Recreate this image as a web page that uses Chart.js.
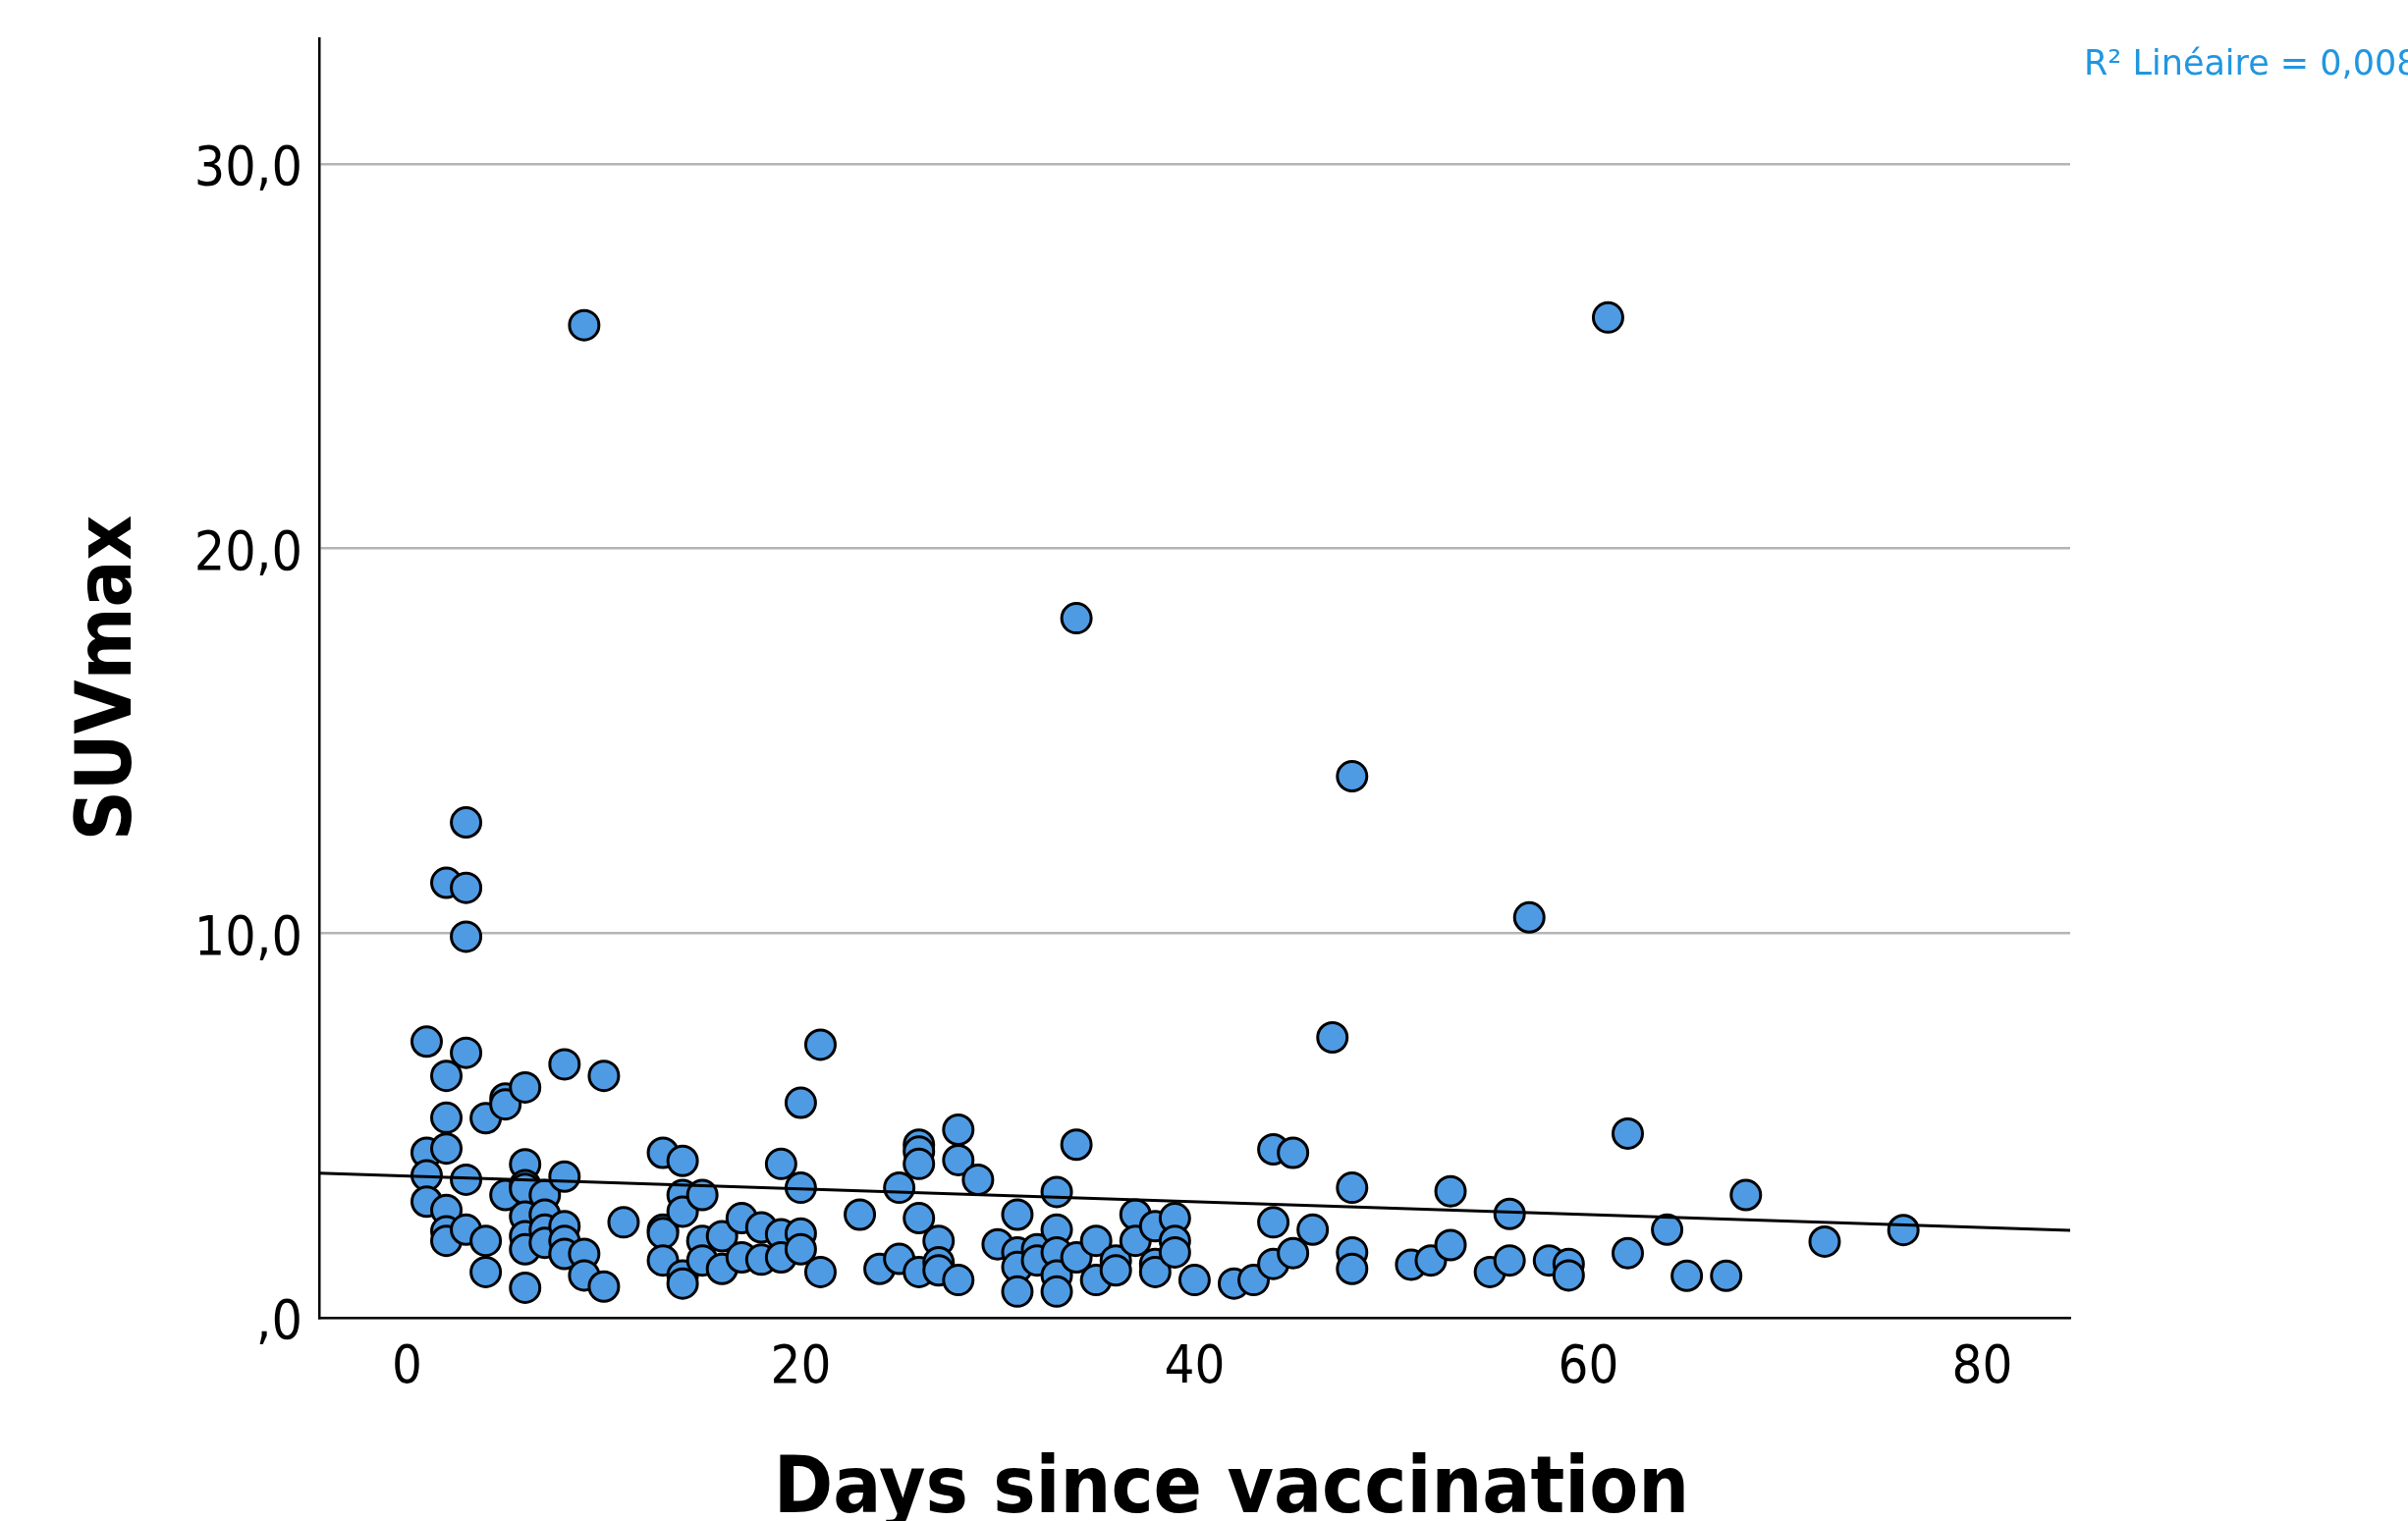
<!DOCTYPE html>
<html lang="fr">
<head>
    <meta charset="UTF-8">
    <title>SUVmax / Days since vaccination</title>
    <script src="https://cdn.jsdelivr.net/npm/chart.js"></script>
    <style>
        html, body { margin: 0; padding: 0; background: #fff; overflow: hidden; }
        canvas { display: block; }
    </style>
</head>
<body>
    <canvas id="suvChart" width="2452" height="1549"></canvas>

    <script>
        // one entry per point, grouped by day
        const days = [
            1, 1, 1, 1,
            2, 2, 2, 2, 2, 2, 2,
            3, 3, 3, 3, 3, 3,
            4, 4, 4,
            5, 5, 5,
            6, 6, 6, 6, 6, 6, 6, 6,
            7, 7, 7, 7,
            8, 8, 8, 8, 8,
            9, 9, 9,
            10, 10,
            11,
            13, 13, 13, 13,
            14, 14, 14, 14, 14,
            15, 15, 15,
            16, 16,
            17, 17,
            18, 18,
            19, 19, 19,
            20, 20, 20, 20,
            21, 21,
            23,
            24,
            25, 25,
            26, 26, 26, 26, 26,
            27, 27, 27,
            28, 28, 28,
            29,
            30,
            31, 31, 31, 31,
            32, 32,
            33, 33, 33, 33, 33,
            34, 34, 34,
            35, 35,
            36, 36,
            37, 37,
            38, 38, 38,
            39, 39, 39,
            40,
            42,
            43,
            44, 44, 44,
            45, 45,
            46,
            47,
            48, 48, 48, 48,
            51,
            52,
            53, 53,
            55,
            56, 56,
            57,
            58,
            59, 59,
            61,
            62, 62,
            64,
            65,
            67,
            68,
            72,
            76
        ];
        const suvmax = [
            7.18, 4.29, 3.70, 3.02,
            11.31, 6.29, 5.20, 4.40, 2.80, 2.25, 2.00,
            12.88, 11.18, 9.91, 6.89, 3.59, 2.29,
            5.19, 2.00, 1.19,
            5.70, 5.55, 3.19,
            5.99, 3.99, 3.45, 3.35, 2.63, 2.12, 1.78, 0.78,
            3.19, 2.68, 2.29, 1.95,
            6.59, 3.67, 2.38, 2.00, 1.66,
            25.81, 1.66, 1.10,
            6.29, 0.81,
            2.48,
            4.29, 2.29, 2.20, 1.49,
            4.08, 3.19, 2.76, 1.10, 0.89,
            3.19, 2.00, 1.49,
            2.12, 1.27,
            2.59, 1.57,
            2.35, 1.51,
            4.00, 2.17, 1.57,
            5.59, 3.38, 2.19, 1.78,
            7.10, 1.19,
            2.68,
            1.27,
            3.38, 1.53,
            4.50, 4.32, 4.00, 2.59, 1.19,
            2.00, 1.44, 1.23,
            4.89, 4.10, 0.98,
            3.59,
            1.91,
            2.68, 1.70, 1.32, 0.68,
            1.78, 1.49,
            3.27, 2.29, 1.70, 1.10, 0.68,
            18.19, 4.50, 1.57,
            2.00, 0.98,
            1.49, 1.23,
            2.68, 2.00,
            2.38, 1.40, 1.19,
            2.59, 2.00, 1.70,
            0.98,
            0.89,
            0.98,
            4.38, 2.48, 1.40,
            4.29, 1.68,
            2.29,
            7.29,
            14.08, 3.38, 1.70, 1.27,
            1.38,
            1.49,
            3.29, 1.89,
            1.19,
            2.70, 1.49,
            10.41,
            1.49,
            1.40, 1.10,
            26.01,
            4.79, 1.68,
            2.29,
            1.09,
            1.09,
            3.19,
            1.98,
            2.28
        ];

        // linear fit line, ends read at the plot edges
        const fitDays = [-4.46, 84.47];
        const fitSuv = [3.76, 2.27];
        const r2Text = 'R² Linéaire = 0,008';

        const xTicks = [0, 20, 40, 60, 80];
        const yTicks = [0, 10, 20, 30];
        const yTickLabels = [',0', '10,0', '20,0', '30,0'];

        const xMin = -4.46, xMax = 84.47;
        const yMin = 0, yMax = 33.27;

        const fontFamily = "'DejaVu Sans Condensed', 'DejaVu Sans', sans-serif";

        const r2Label = {
            id: 'r2Label',
            afterDraw(chart) {
                const c = chart.ctx;
                const area = chart.chartArea;
                c.save();
                c.font = "35px 'DejaVu Sans', sans-serif";
                c.fillStyle = '#2196e0';
                c.textAlign = 'left';
                c.textBaseline = 'middle';
                c.fillText(r2Text, area.right + 14, area.top + 28);
                c.restore();
            }
        };

        const ctx = document.getElementById('suvChart').getContext('2d');
        new Chart(ctx, {
            type: 'scatter',
            data: {
                datasets: [
                    {
                        type: 'line',
                        data: fitDays.map((d, i) => ({ x: d, y: fitSuv[i] })),
                        borderColor: '#000',
                        borderWidth: 3,
                        pointRadius: 0,
                        fill: false
                    },
                    {
                        data: days.map((d, i) => ({ x: d, y: suvmax[i] })),
                        backgroundColor: '#4e9be4',
                        borderColor: '#000',
                        borderWidth: 3,
                        pointRadius: 15,
                        pointHoverRadius: 15
                    }
                ]
            },
            options: {
                responsive: false,
                animation: false,
                devicePixelRatio: 1,
                events: [],
                layout: { padding: { left: 56, top: 39, right: 0, bottom: 0 } },
                plugins: {
                    legend: { display: false },
                    tooltip: { enabled: false },
                    title: {
                        display: true,
                        position: 'bottom',
                        text: 'Days since vaccination',
                        color: '#000',
                        font: { family: fontFamily, size: 81, weight: 'bold', lineHeight: 1 },
                        padding: { top: 10, bottom: -10 }
                    }
                },
                scales: {
                    x: {
                        type: 'linear',
                        min: xMin,
                        max: xMax,
                        afterBuildTicks: s => { s.ticks = xTicks.map(v => ({ value: v })); },
                        afterFit: s => { s.height = 126; },
                        ticks: {
                            color: '#000',
                            font: { family: fontFamily, size: 54 },
                            padding: 20,
                            maxRotation: 0,
                            callback: v => String(v)
                        },
                        grid: { display: false, drawTicks: false },
                        border: { display: true, color: '#000', width: 2.5 }
                    },
                    y: {
                        type: 'linear',
                        min: yMin,
                        max: yMax,
                        afterBuildTicks: s => { s.ticks = yTicks.map(v => ({ value: v })); },
                        afterFit: s => {
                            s.width = 269;
                            // labels sit well inside the range, no edge room needed
                            s.paddingTop = 0;
                            s.paddingBottom = 0;
                        },
                        ticks: {
                            color: '#000',
                            font: { family: fontFamily, size: 55 },
                            padding: 17,
                            labelOffset: 7,
                            callback: (v, i) => yTickLabels[i]
                        },
                        grid: { color: '#b4b4b4', lineWidth: 2.5, drawTicks: false },
                        border: { display: true, color: '#000', width: 2.5 },
                        title: {
                            display: true,
                            text: 'SUVmax',
                            color: '#000',
                            font: { family: fontFamily, size: 79, weight: 'bold', lineHeight: 1 },
                            padding: { top: 17, bottom: 0 }
                        }
                    },
                    // empty right margin where the R² label sits
                    yRight: {
                        type: 'linear',
                        position: 'right',
                        display: true,
                        afterFit: s => {
                            s.width = 344;
                            s.paddingTop = 0;
                            s.paddingBottom = 0;
                        },
                        ticks: { display: false },
                        grid: { display: false, drawTicks: false },
                        border: { display: false }
                    }
                }
            },
            plugins: [r2Label]
        });
    </script>
</body>
</html>
